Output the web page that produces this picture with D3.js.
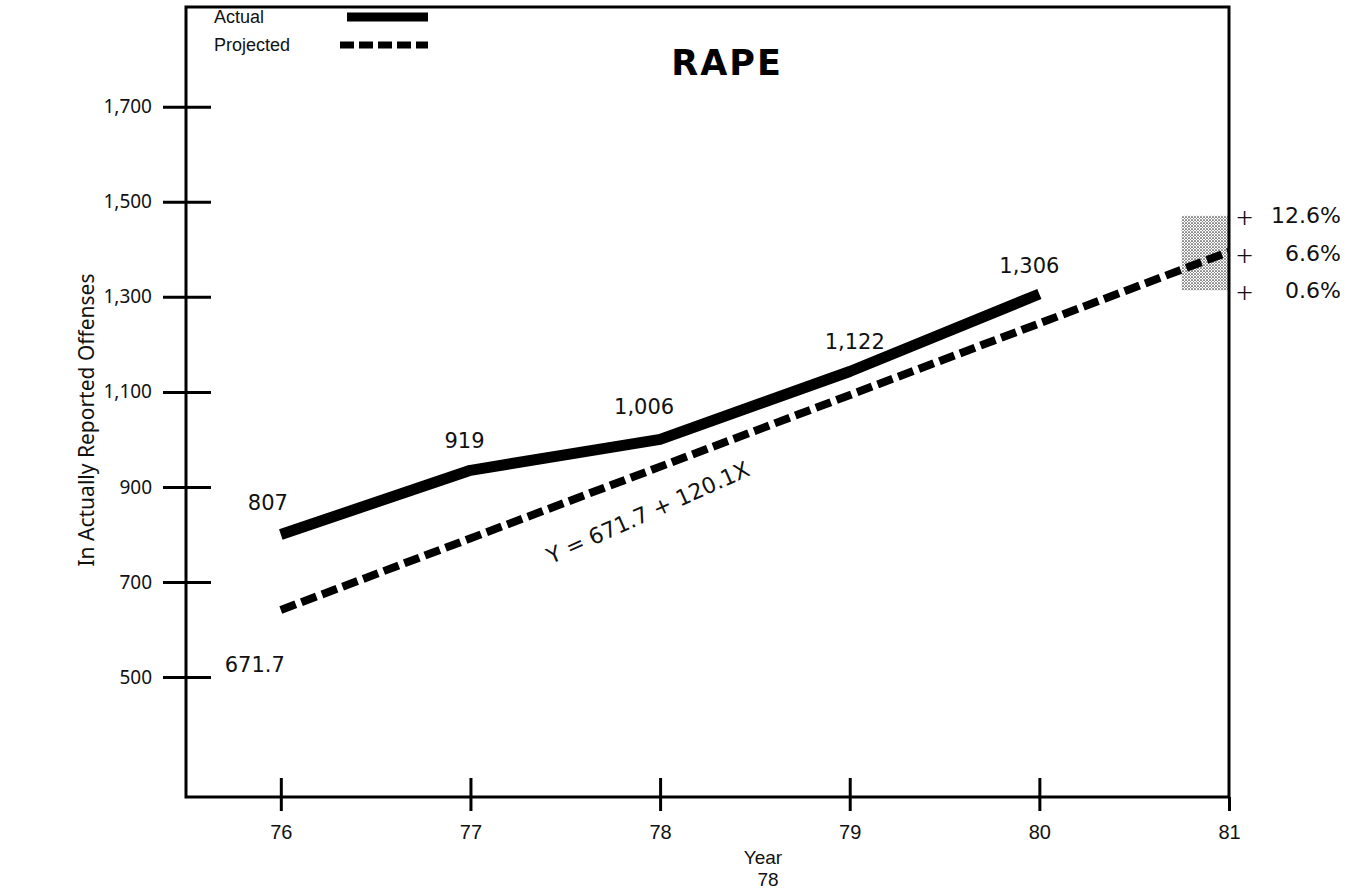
<!DOCTYPE html>
<head>
  <meta charset="utf-8">
  <script src="https://d3js.org/d3.v7.min.js"></script>
  <style>
body {
	margin:0;
	background:#fff;
	}
.num {
	font-family: "DejaVu Sans", "Noto Sans", sans-serif;
	font-size: 20px;
	fill: #111;
	}
.tick-y {
	font-family: "Noto Sans", "DejaVu Sans", sans-serif;
	font-size: 19px;
	fill: #111;
	}
.narrow {
	font-family: "Liberation Sans Narrow", "Liberation Sans", sans-serif;
	font-stretch: condensed;
	font-size: 20px;
	fill: #111;
	}
  </style>
</head>

<body>
  <div id="graph"></div>
<script>
// data
var years = [76, 77, 78, 79, 80];
var actual = [800, 935, 1000, 1143, 1306];
var actualLabels = ["807", "919", "1,006", "1,122", "1,306"];
var projYears = [76, 81];
var projected = [641, 1395];
var yTicks = [500, 700, 900, 1100, 1300, 1500, 1700];
var xTicks = [76, 77, 78, 79, 80, 81];
var band = [1313.8, 1470.6];       // +0.6% .. +12.6% of 1,306
var bandLabels = ["12.6%", "6.6%", "0.6%"];
var bandValues = [1470.6, 1392.2, 1313.8];

var W = 1350, H = 889;
var mLeft = 186, mRight = 1229, mTop = 7, mBottom = 797;

var x = d3.scaleLinear().domain([75.5, 81]).range([mLeft, mRight]);
var y = d3.scaleLinear().domain([247.5, 1910]).range([mBottom, mTop]);

var svg = d3.select("#graph")
        .append("svg")
        .attr("width", W)
        .attr("height", H);

// stipple pattern for the projected range
var pat = svg.append("defs").append("pattern")
    .attr("id", "stipple")
    .attr("width", 3).attr("height", 3)
    .attr("patternUnits", "userSpaceOnUse");
pat.append("rect").attr("width", 3).attr("height", 3).attr("fill", "#fff");
pat.append("circle").attr("cx", 1).attr("cy", 1).attr("r", 0.85).attr("fill", "#333");
pat.append("circle").attr("cx", 2.5).attr("cy", 2.5).attr("r", 0.5).attr("fill", "#666");

// shaded band at 81
svg.append("rect")
    .attr("x", x(80.75))
    .attr("y", y(band[1]))
    .attr("width", x(81) - x(80.75))
    .attr("height", y(band[0]) - y(band[1]))
    .attr("fill", "url(#stipple)");

// frame
svg.append("rect")
    .attr("x", mLeft).attr("y", mTop)
    .attr("width", mRight - mLeft).attr("height", mBottom - mTop)
    .attr("fill", "none")
    .attr("stroke", "#000")
    .attr("stroke-width", 3);

// y axis
var yaxis = svg.append("g")
    .attr("transform", "translate(" + mLeft + ",0)")
    .call(d3.axisLeft(y).tickValues(yTicks).tickFormat(d3.format(",")).tickSize(0).tickPadding(34));
yaxis.select(".domain").remove();
yaxis.selectAll(".tick line").attr("x1", -23).attr("x2", 25)
    .attr("stroke", "#000").attr("stroke-width", 3);
yaxis.selectAll(".tick text").attr("class", "tick-y").attr("font-size", null).attr("font-family", null);

// x axis
var xaxis = svg.append("g")
    .attr("transform", "translate(0," + mBottom + ")")
    .call(d3.axisBottom(x).tickValues(xTicks).tickFormat(d3.format("d")).tickSize(0).tickPadding(28));
xaxis.select(".domain").remove();
xaxis.selectAll(".tick line").attr("y1", function(d) { return d == 81 ? 0 : -19; }).attr("y2", 14)
    .attr("stroke", "#000").attr("stroke-width", 3);
xaxis.selectAll(".tick text").attr("class", "narrow").attr("font-size", null).attr("font-family", null);

// axis titles
svg.append("text")
    .attr("class", "tick-y")
    .style("font-size", "21px")
    .attr("transform", "translate(86,420) rotate(-90)")
    .attr("text-anchor", "middle")
    .attr("dominant-baseline", "central")
    .text("In Actually Reported Offenses");

svg.append("text")
    .attr("class", "narrow")
    .attr("x", 763).attr("y", 864)
    .attr("text-anchor", "middle")
    .style("font-size", "19px")
    .text("Year");

svg.append("text")
    .attr("class", "narrow")
    .attr("x", 768).attr("y", 886)
    .attr("text-anchor", "middle")
    .style("font-size", "19px")
    .text("78");

// projected (dashed) line
var line = d3.line().x(function(d) { return x(d[0]); }).y(function(d) { return y(d[1]); });
svg.append("path")
    .datum(d3.zip(projYears, projected))
    .attr("d", line)
    .attr("fill", "none")
    .attr("stroke", "#000")
    .attr("stroke-width", 8)
    .attr("stroke-dasharray", "16,6");

// actual line
svg.append("path")
    .datum(d3.zip(years, actual))
    .attr("d", line)
    .attr("fill", "none")
    .attr("stroke", "#000")
    .attr("stroke-width", 11)
    .attr("stroke-linejoin", "round");

// value labels
var labelOff = [[-13, -24], [-6, -22], [-16, -25], [5, -22], [-10, -21]];
svg.selectAll(".vlab")
    .data(actualLabels)
    .enter()
    .append("text")
    .attr("class", "num")
    .style("font-size", "21px")
    .attr("x", function(d, i) { return x(years[i]) + labelOff[i][0]; })
    .attr("y", function(d, i) { return y(actual[i]) + labelOff[i][1]; })
    .attr("text-anchor", "middle")
    .text(function(d) { return d; });

svg.append("text")
    .attr("class", "num")
    .style("font-size", "21px")
    .attr("x", x(76) - 26).attr("y", y(projected[0]) + 62)
    .attr("text-anchor", "middle")
    .text("671.7");

// regression equation along the dashed line
svg.append("text")
    .attr("class", "num")
    .style("font-size", "22px")
    .attr("transform", "translate(" + (x(78) - 12) + "," + (y(projected[0]) + (y(projected[1]) - y(projected[0])) * 0.4 + 46) + ") rotate(-24)")
    .attr("text-anchor", "middle")
    .attr("dominant-baseline", "central")
    .text("Y = 671.7 + 120.1X");

// band percentages
bandValues.forEach(function(v, i) {
  svg.append("text")
      .attr("class", "tick-y")
      .attr("x", mRight + 7).attr("y", y(v) + 1)
      .attr("dominant-baseline", "central")
      .style("font-size", "30px")
      .style("font-weight", "300")
      .text("+");
  svg.append("text")
      .attr("class", "num")
      .attr("x", 1341).attr("y", y(v))
      .attr("text-anchor", "end")
      .attr("dominant-baseline", "central")
      .style("font-size", "22px")
      .text(bandLabels[i]);
});

// title
svg.append("text")
    .attr("x", 727).attr("y", 63)
    .attr("text-anchor", "middle")
    .attr("dominant-baseline", "central")
    .style("font-family", "\"DejaVu Sans\", sans-serif")
    .style("font-weight", "bold")
    .style("font-size", "35px")
    .style("letter-spacing", "2px")
    .text("RAPE");

// legend
var legend = [{name: "Actual", dash: null, w: 9, x1: 347}, {name: "Projected", dash: "14,5", w: 7, x1: 340}];
legend.forEach(function(d, i) {
  var ly = 17 + i * 28;
  svg.append("text")
      .attr("class", "narrow")
      .style("font-size", "18px")
      .attr("x", 214).attr("y", ly)
      .attr("dominant-baseline", "central")
      .text(d.name);
  svg.append("line")
      .attr("x1", d.x1).attr("x2", 428)
      .attr("y1", ly).attr("y2", ly)
      .attr("stroke", "#000")
      .attr("stroke-width", d.w)
      .attr("stroke-dasharray", d.dash);
});
</script>
</body>
